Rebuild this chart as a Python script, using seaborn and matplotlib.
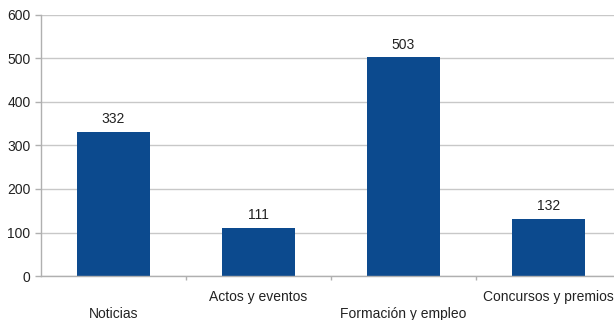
import matplotlib
matplotlib.use("Agg")
import matplotlib.pyplot as plt
import seaborn as sns
import pandas as pd

categories = ["Noticias", "Actos y eventos", "Formación y empleo", "Concursos y premios"]
values = [332, 111, 503, 132]
yticks = [0, 100, 200, 300, 400, 500, 600]

sns.set_style("white")
plt.rcParams['font.family'] = ['Liberation Sans', 'DejaVu Sans']

df = pd.DataFrame({"cat": categories, "val": values})
fig = plt.figure(figsize=(6.14, 3.2), dpi=100)
ax = fig.add_axes([41/614, 44/320, 580/614, 261/320])
sns.barplot(data=df, x="cat", y="val", color="#0c4a8e", width=0.5, saturation=1, ax=ax)
for p in ax.patches:
    p.set_edgecolor("none")
ax.bar_label(ax.containers[0], padding=4, fontsize=10, color="#222222")

ax.set_xlim(-0.5, 3.5)
ax.set_ylim(0, 600)
ax.set_yticks(yticks)
ax.set_yticklabels([str(t) for t in yticks], fontsize=10, color="#222222")
ax.yaxis.grid(True, color="#c8c8c8", linewidth=1)
ax.set_axisbelow(True)
ax.set_xlabel("")
ax.set_ylabel("")
for s in ["top", "right"]:
    ax.spines[s].set_visible(False)
for s in ["left", "bottom"]:
    ax.spines[s].set_color("#b0b0b0")
    ax.spines[s].set_linewidth(1)

ax.tick_params(axis="y", length=4.5, color="#b0b0b0", width=1, pad=3, left=True)
ax.set_xticks([0.5, 1.5, 2.5], minor=True)
ax.tick_params(axis="x", which="minor", length=3, color="#b0b0b0", width=1, bottom=True)
ax.tick_params(axis="x", which="major", length=0)
ax.set_xticklabels(categories, fontsize=10, color="#222222")
for i, t in enumerate(ax.xaxis.get_major_ticks()):
    t.set_pad(22 if i % 2 == 0 else 10)

fig.savefig("out.png", dpi=100)
